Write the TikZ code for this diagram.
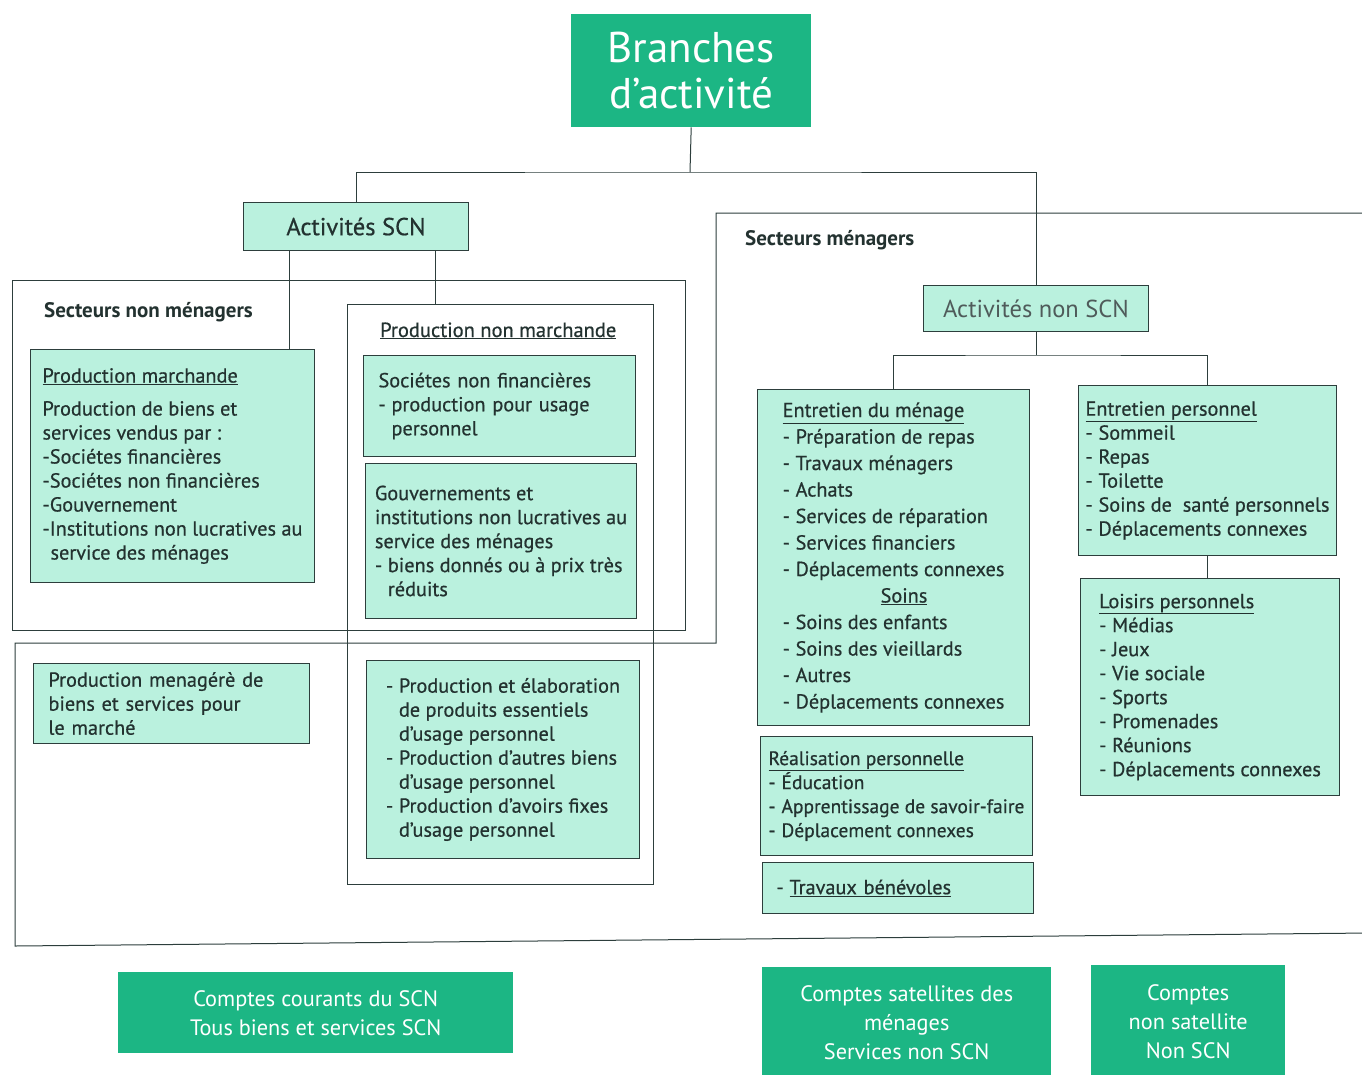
\documentclass[tikz,border=0pt]{standalone}
\usepackage{fontspec}
\setmainfont{PT Sans}
\newfontfamily\epais{PT Sans}[FakeBold=0.6, Ligatures=TeX]
\definecolor{vertfonce}{RGB}{28,182,132}
\definecolor{menthe}{RGB}{186,241,222}
\definecolor{trait}{RGB}{45,62,60}
\definecolor{encre}{RGB}{35,50,48}
\newcommand{\tir}{\makebox[13pt][l]{-}}
\newcommand{\suite}{\hspace*{13pt}}
\begin{document}
\begin{tikzpicture}[x=1pt, y=-1pt,
    boite/.style={draw=trait, line width=1pt, fill=menthe, anchor=north west, align=left,
      inner sep=0pt, text=encre, font=\epais\fontsize{20.3}{24}\selectfont},
    fonce/.style={fill=vertfonce, anchor=north west, align=center, inner sep=0pt,
      text=white, font=\fontsize{22.3}{29}\selectfont},
    cadre/.style={draw=trait, line width=1pt, anchor=north west, inner sep=0pt},
    lien/.style={draw=trait, line width=1pt},
    entete/.style={anchor=base west, inner sep=0pt, text=encre}]
  \useasboundingbox[fill=white] (0,0) rectangle (1362,1074);

  \node[cadre, minimum width=673, minimum height=350] (snm) at (12,280) {};
  \node[cadre, minimum width=306, minimum height=580] (cpnm) at (347,304) {};
  \draw[lien] (1370,213) -- (716,213) -- (716,643) -- (15,643) -- (15,946) -- (1370,933);
  \node[entete, font=\bfseries\fontsize{21}{24}\selectfont] (lsnm) at (44,317) {Secteurs non ménagers};
  \node[entete, font=\bfseries\fontsize{21}{24}\selectfont] (lsm) at (745,245) {Secteurs ménagers};
  \node[entete, font=\epais\fontsize{20.5}{24}\selectfont] (lpnm) at (380,337) {\underline{Production non marchande}};

  \node[fonce, minimum width=240, minimum height=113, font=\fontsize{43}{46}\selectfont] (branches) at (571,14) {Branches\\d'activité};
  \node[boite, minimum width=225, minimum height=48, font=\epais\fontsize{24.5}{28}\selectfont] (scn) at (243,202) {Activités SCN};
  \node[boite, minimum width=225, minimum height=46, font=\fontsize{24.5}{28}\selectfont, text=encre!80] (nonscn) at (923,285) {Activités non SCN};

  \node[boite, minimum width=284, minimum height=233] (pm) at (30,349) {\underline{Production marchande}\\[9pt]
    Production de biens et\\ services vendus par :\\ -Sociétes financières\\ -Sociétes non financières\\
    -Gouvernement\\ -Institutions non lucratives au\\ \hspace*{8pt}service des ménages};
  \node[boite, minimum width=272, minimum height=101, text width=242] (snf) at (363,355) {Sociétes non financières\\
    \tir production pour usage\\ \suite personnel};
  \node[boite, minimum width=271, minimum height=155] (gouv) at (365,463) {Gouvernements et\\
    institutions non lucratives au\\ service des ménages\\ \tir biens donnés ou à prix très\\ \suite réduits};
  \node[boite, minimum width=276, minimum height=80, text width=246] (pmen) at (33,663) {Production menagérè de\\
    biens et services pour\\ le marché};
  \node[boite, minimum width=273, minimum height=198] (pelab) at (366,660) {\tir Production et élaboration\\
    \suite de produits essentiels\\ \suite d'usage personnel\\ \tir Production d'autres biens\\
    \suite d'usage personnel\\ \tir Production d'avoirs fixes\\ \suite d'usage personnel};

  \node[boite, minimum width=272, minimum height=336, font=\epais\fontsize{20.3}{26.5}\selectfont] (entm) at (757,389) {\underline{Entretien du ménage}\\
    \tir Préparation de repas\\ \tir Travaux ménagers\\ \tir Achats\\ \tir Services de réparation\\
    \tir Services financiers\\ \tir Déplacements connexes\\ \hspace*{98pt}\underline{Soins}\\
    \tir Soins des enfants\\ \tir Soins des vieillards\\ \tir Autres\\ \tir Déplacements connexes};
  \node[boite, minimum width=272, minimum height=119, font=\epais\fontsize{19.5}{24}\selectfont] (real) at (760,736) {\underline{Réalisation personnelle}\\
    \tir Éducation\\ \tir Apprentissage de savoir-faire\\ \tir Déplacement connexes};
  \node[boite, minimum width=271, minimum height=51, text width=243] (benev) at (762,862) {\tir \underline{Travaux bénévoles}};
  \node[boite, minimum width=258, minimum height=170] (entp) at (1078,385) {\underline{Entretien personnel}\\
    \tir Sommeil\\ \tir Repas\\ \tir Toilette\\ \tir Soins de\ \ santé personnels\\ \tir Déplacements connexes};
  \node[boite, minimum width=259, minimum height=217] (lp) at (1080,578) {\underline{Loisirs personnels}\\
    \tir Médias\\ \tir Jeux\\ \tir Vie sociale\\ \tir Sports\\ \tir Promenades\\ \tir Réunions\\
    \tir Déplacements connexes};

  \node[fonce, minimum width=395, minimum height=81] (cc) at (118,972) {Comptes courants du SCN\\Tous biens et services SCN};
  \node[fonce, minimum width=289, minimum height=110] (csat) at (762,967) {Comptes satellites des\\ménages\\Services non SCN};
  \node[fonce, minimum width=194, minimum height=112] (cnsat) at (1091,965) {Comptes\\non satellite\\Non SCN};

  \coordinate (j0) at (690,172);
  \coordinate (j1) at (1036,355);
  \draw[lien] (branches.south) -- (j0);
  \draw[lien] (scn.north) |- (j0) -| (nonscn.north);
  \draw[lien] ([xshift=46pt]scn.south west) -- ([xshift=46pt]scn.south west |- pm.north);
  \draw[lien] ([xshift=-34pt]scn.south east) -- ([xshift=-34pt]scn.south east |- cpnm.north);
  \draw[lien] (nonscn.south) -- (j1);
  \draw[lien] (entm.north) |- (j1) -| (entp.north);
  \draw[lien] (entp.south) -- (entp.south |- lp.north);
\end{tikzpicture}
\end{document}
